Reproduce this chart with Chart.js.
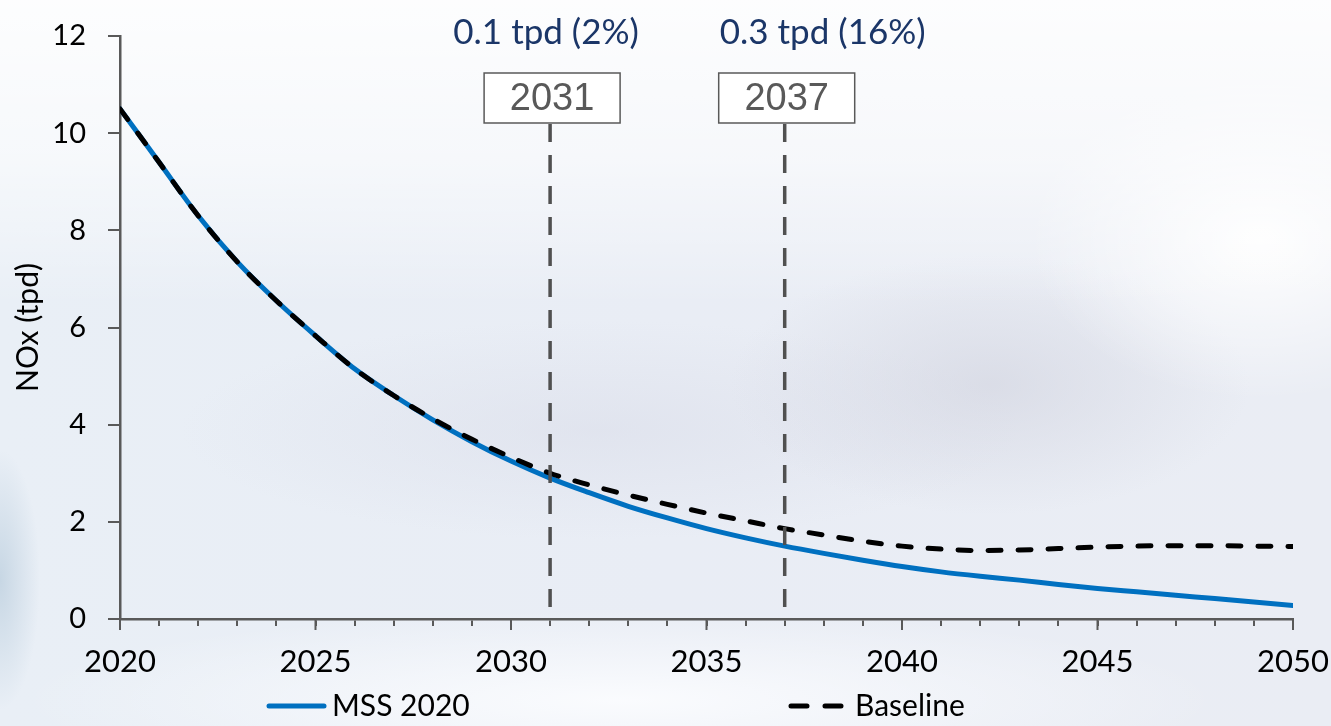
<!DOCTYPE html>
<html>
<head>
<meta charset="utf-8">
<script src="https://cdn.jsdelivr.net/npm/chart.js@4.4.1/dist/chart.umd.min.js"></script>
<style>
    html, body {
        margin: 0;
        padding: 0;
        width: 1331px;
        height: 726px;
        overflow: hidden;
    }
    body {
        background:
            linear-gradient(to bottom, rgba(255,255,255,0.9) 0%, rgba(255,255,255,0.6) 22%, rgba(255,255,255,0) 42%),
            radial-gradient(ellipse 230px 160px at 1260px 240px, rgba(255,255,255,0.95), rgba(255,255,255,0) 100%),
            radial-gradient(ellipse 260px 130px at 990px 385px, rgba(208,210,222,0.6), rgba(208,210,222,0) 100%),
            radial-gradient(ellipse 420px 110px at 600px 430px, rgba(214,217,230,0.45), rgba(214,217,230,0) 100%),
            radial-gradient(ellipse 40px 130px at 0px 580px, rgba(165,190,210,0.5), rgba(165,190,210,0) 100%),
            radial-gradient(ellipse 600px 90px at 620px 700px, rgba(252,253,255,0.9), rgba(252,253,255,0) 100%),
            linear-gradient(to right, #e9eff6 0%, #e9edf5 50%, #eaedf4 100%);
    }
    #wrap {
        position: absolute;
        left: 0;
        top: 0;
        width: 1331px;
        height: 726px;
    }
</style>
</head>
<body>
<div id="wrap"><canvas id="noxChart" width="1331" height="726"></canvas></div>
<script>
// Chart data
const years = [2020, 2021, 2022, 2023, 2024, 2025, 2026, 2027, 2028, 2029,
               2030, 2031, 2032, 2033, 2034, 2035, 2036, 2037, 2038, 2039,
               2040, 2041, 2042, 2043, 2044, 2045, 2046, 2047, 2048, 2049, 2050];
const mss2020 = [10.5, 9.4, 8.3, 7.35, 6.55, 5.83, 5.15, 4.6, 4.1, 3.65,
                 3.25, 2.9, 2.6, 2.32, 2.08, 1.86, 1.67, 1.5, 1.35, 1.21,
                 1.08, 0.97, 0.88, 0.8, 0.71, 0.63, 0.56, 0.49, 0.42, 0.35, 0.28];
const baseline = [10.5, 9.4, 8.3, 7.35, 6.55, 5.83, 5.15, 4.6, 4.12, 3.7,
                  3.33, 3.0, 2.76, 2.55, 2.36, 2.18, 2.02, 1.86, 1.73, 1.6,
                  1.5, 1.44, 1.41, 1.42, 1.45, 1.48, 1.5, 1.51, 1.51, 1.5, 1.49];
const yTicks = [0, 2, 4, 6, 8, 10, 12];
const markerYears = [2031, 2037];
const markerNotes = ['0.1 tpd (2%)', '0.3 tpd (16%)'];
const seriesNames = ['MSS 2020', 'Baseline'];

// Styling
const noteOffsets = [-4, 38];
const blue = '#0070C0';
const axisGrey = '#595959';
const bodyFont = 'Lato, "Open Sans", sans-serif';

function toPoints(values) {
    return years.map((yr, i) => ({ x: yr, y: values[i] }));
}

// Marker lines, boxes, notes and legend
const overlayPlugin = {
    id: 'overlay',
    afterDatasetsDraw(chart) {
        const ctx = chart.ctx;
        const xs = chart.scales.x;
        const ys = chart.scales.y;
        ctx.save();
        markerYears.forEach((yr, i) => {
            const px = xs.getPixelForValue(yr);
            // dashed vertical line
            ctx.strokeStyle = '#505050';
            ctx.lineWidth = 3.5;
            ctx.setLineDash([18, 13]);
            ctx.beginPath();
            ctx.moveTo(px, 124);
            ctx.lineTo(px, ys.getPixelForValue(0));
            ctx.stroke();
            ctx.setLineDash([]);

            // year box
            const bw = 136, bh = 50;
            const bx = px - bw / 2 + 2, by = 73;
            ctx.fillStyle = '#ffffff';
            ctx.fillRect(bx, by, bw, bh);
            ctx.strokeStyle = axisGrey;
            ctx.lineWidth = 1.5;
            ctx.strokeRect(bx, by, bw, bh);
            ctx.fillStyle = '#595959';
            ctx.font = '38px "Liberation Sans", Arial, sans-serif';
            ctx.textAlign = 'center';
            ctx.textBaseline = 'middle';
            ctx.fillText(String(yr), bx + bw / 2, by + bh / 2 + 2);

            // note above
            ctx.fillStyle = '#1B3668';
            ctx.font = '35px ' + bodyFont;
            ctx.fillText(markerNotes[i], px + noteOffsets[i], 33);
        });

        // x-axis major tick extensions
        ctx.strokeStyle = axisGrey;
        ctx.lineWidth = 2;
        const y0 = ys.getPixelForValue(0);
        years.forEach(yr => {
            if (yr % 5 === 0) {
                const px = xs.getPixelForValue(yr);
                ctx.beginPath();
                ctx.moveTo(px, y0);
                ctx.lineTo(px, y0 + 11);
                ctx.stroke();
            }
        });
        ctx.restore();
    },
    afterDraw(chart) {
        const ctx = chart.ctx;
        const ds = chart.data.datasets;
        ctx.save();
        const ly = 706;
        // MSS 2020 legend
        ctx.strokeStyle = ds[0].borderColor;
        ctx.lineWidth = 5;
        ctx.lineCap = 'round';
        ctx.beginPath();
        ctx.moveTo(269, ly);
        ctx.lineTo(324, ly);
        ctx.stroke();
        ctx.fillStyle = '#000';
        ctx.font = '30px ' + bodyFont;
        ctx.textAlign = 'left';
        ctx.textBaseline = 'middle';
        ctx.fillText(ds[0].label, 332, ly);

        // Baseline legend
        ctx.strokeStyle = ds[1].borderColor;
        ctx.setLineDash([16, 18]);
        ctx.beginPath();
        ctx.moveTo(791, ly);
        ctx.lineTo(843, ly);
        ctx.stroke();
        ctx.setLineDash([]);
        ctx.fillText(ds[1].label, 855, ly);
        ctx.restore();
    }
};

const ctx = document.getElementById('noxChart');
const noxChart = new Chart(ctx, {
    type: 'line',
    data: {
        datasets: [
            {
                label: seriesNames[0],
                data: toPoints(mss2020),
                borderColor: blue,
                borderWidth: 5,
                pointRadius: 0,
                cubicInterpolationMode: 'monotone',
                borderCapStyle: 'round',
                fill: false,
                order: 2
            },
            {
                label: seriesNames[1],
                data: toPoints(baseline),
                borderColor: '#000000',
                borderWidth: 5,
                borderDash: [13, 17],
                borderCapStyle: 'round',
                pointRadius: 0,
                cubicInterpolationMode: 'monotone',
                fill: false,
                order: 1
            }
        ]
    },
    options: {
        responsive: false,
        animation: false,
        devicePixelRatio: 1,
        layout: {
            padding: { left: 0, right: 38, top: 36, bottom: 0 }
        },
        plugins: {
            legend: { display: false },
            tooltip: { enabled: false }
        },
        scales: {
            x: {
                type: 'linear',
                min: years[0],
                max: years[years.length - 1],
                afterFit: function(scale) {
                    scale.height = 107;
                    scale.paddingLeft = 0;
                    scale.paddingRight = 0;
                },
                grid: {
                    drawOnChartArea: false,
                    drawTicks: true,
                    tickLength: 7,
                    color: axisGrey,
                    lineWidth: 2
                },
                border: { color: axisGrey, width: 2.5 },
                ticks: {
                    stepSize: 1,
                    autoSkip: false,
                    maxRotation: 0,
                    padding: 17,
                    color: '#000',
                    font: { family: bodyFont, size: 31 },
                    callback: function(value) {
                        return value % 5 === 0 ? String(value) : '';
                    }
                }
            },
            y: {
                min: yTicks[0],
                max: yTicks[yTicks.length - 1],
                afterFit: function(scale) {
                    scale.width = 120;
                    scale.paddingTop = 0;
                    scale.paddingBottom = 0;
                },
                afterBuildTicks: function(scale) {
                    scale.ticks = yTicks.map(v => ({ value: v }));
                },
                grid: {
                    drawOnChartArea: false,
                    drawTicks: true,
                    tickLength: 12,
                    color: axisGrey,
                    lineWidth: 2
                },
                border: { color: axisGrey, width: 2.5 },
                ticks: {
                    padding: 22,
                    color: '#000',
                    font: { family: bodyFont, size: 29 }
                },
                title: {
                    display: true,
                    text: 'NOx (tpd)',
                    color: '#000',
                    font: { family: bodyFont, size: 30 },
                    padding: { top: 10, bottom: 0 }
                }
            }
        }
    },
    plugins: [overlayPlugin]
});
</script>
</body>
</html>
